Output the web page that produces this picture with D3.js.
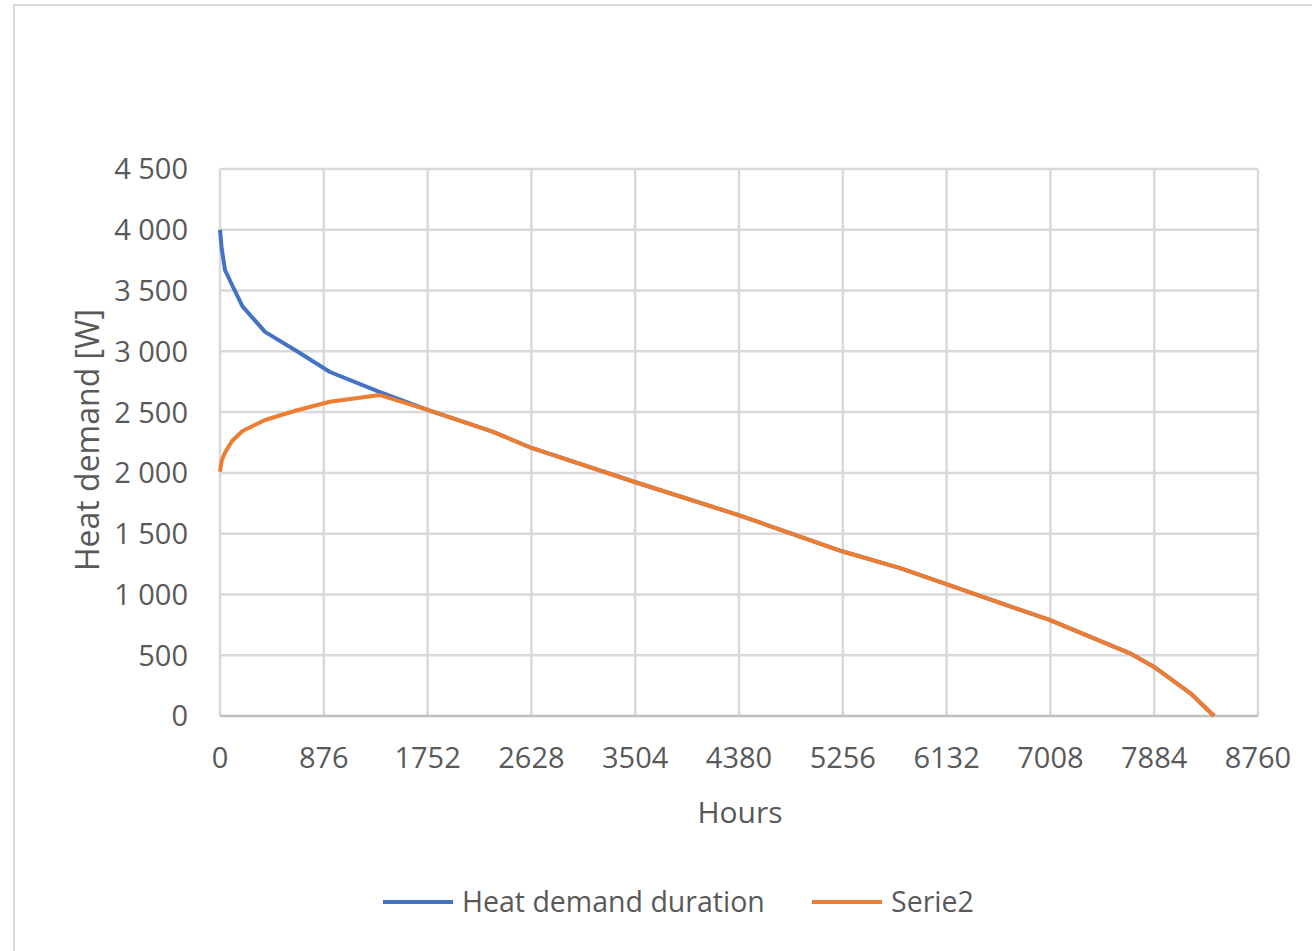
<!DOCTYPE html>
<html>
<head>
<meta charset="utf-8">
<script src="https://cdn.jsdelivr.net/npm/d3@7"></script>
<style>
  body { margin: 0; background: #fff; }
  text { font-family: "Open Sans", sans-serif; fill: #595959; }
</style>
</head>
<body>
<div class="chart"></div>
<script>
// values
const hours = [0, 14, 42, 100, 190, 380, 650, 928, 1350, 1758, 2300, 2630, 3500, 4370, 5250, 5740, 6130, 7000, 7680, 7880, 8190, 8390];
const heatDemand = [4000, 3850, 3670, 3550, 3370, 3160, 3000, 2830, 2665, 2517, 2340, 2205, 1925, 1655, 1355, 1217, 1085, 790, 516, 406, 187, 0];
const serie2 = [2010, 2100, 2165, 2260, 2345, 2435, 2515, 2585, 2640, 2517, 2340, 2205, 1925, 1655, 1355, 1217, 1085, 790, 516, 406, 187, 0];
const xTicks = [0, 876, 1752, 2628, 3504, 4380, 5256, 6132, 7008, 7884, 8760];
const yTicks = [0, 500, 1000, 1500, 2000, 2500, 3000, 3500, 4000, 4500];
const seriesNames = ["Heat demand duration", "Serie2"];
const colors = ["#4472C4", "#ED7D31"];

const W = 1312, H = 951;
const svg = d3.select(".chart").append("svg")
    .attr("width", W)
    .attr("height", H);

// chart frame
svg.append("rect")
    .attr("x", 14).attr("y", 5)
    .attr("width", W).attr("height", H)
    .attr("fill", "none")
    .attr("stroke", "#d9d9d9")
    .attr("stroke-width", 2);

const x = d3.scaleLinear().domain([0, 8760]).range([220, 1258]);
const y = d3.scaleLinear().domain([0, 4500]).range([716, 169]);

const fmt = d => d3.format(",")(d).replace(/,/g, " ");

// gridlines
svg.append("g")
    .selectAll("line")
    .data(yTicks.slice(1))
    .enter().append("line")
    .attr("x1", x(0)).attr("x2", x(8760))
    .attr("y1", d => y(d)).attr("y2", d => y(d))
    .attr("stroke", "#d9d9d9").attr("stroke-width", 2.5);

svg.append("g")
    .selectAll("line")
    .data(xTicks)
    .enter().append("line")
    .attr("x1", d => x(d)).attr("x2", d => x(d))
    .attr("y1", y(4500)).attr("y2", y(0))
    .attr("stroke", "#d9d9d9").attr("stroke-width", 2.5);

// x axis line
svg.append("line")
    .attr("x1", x(0)).attr("x2", x(8760))
    .attr("y1", y(0)).attr("y2", y(0))
    .attr("stroke", "#bfbfbf").attr("stroke-width", 2.5);

// tick labels
svg.append("g")
    .selectAll("text")
    .data(yTicks)
    .enter().append("text")
    .attr("x", 188)
    .attr("y", d => y(d))
    .attr("dy", "0.36em")
    .attr("text-anchor", "end")
    .attr("font-size", 29)
    .text(fmt);

svg.append("g")
    .selectAll("text")
    .data(xTicks)
    .enter().append("text")
    .attr("x", d => x(d))
    .attr("y", 758)
    .attr("dy", "0.36em")
    .attr("text-anchor", "middle")
    .attr("font-size", 29)
    .text(d => d);

// axis titles
svg.append("text")
    .attr("x", 740).attr("y", 812)
    .attr("dy", "0.36em")
    .attr("text-anchor", "middle")
    .attr("font-size", 30)
    .text("Hours");

svg.append("text")
    .attr("transform", "translate(87,440) rotate(-90)")
    .attr("dy", "0.36em")
    .attr("text-anchor", "middle")
    .attr("font-size", 32)
    .text("Heat demand [W]");

// lines
const line = d3.line()
    .x(d => x(d[0]))
    .y(d => y(d[1]));

[heatDemand, serie2].forEach((vals, i) => {
    svg.append("path")
        .datum(hours.map((h, j) => [h, vals[j]]))
        .attr("d", line)
        .attr("fill", "none")
        .attr("stroke", colors[i])
        .attr("stroke-width", 4)
        .attr("stroke-linejoin", "round");
});

// legend
const legendX = [383, 812];
seriesNames.forEach((name, i) => {
    svg.append("line")
        .attr("x1", legendX[i]).attr("x2", legendX[i] + 70)
        .attr("y1", 902).attr("y2", 902)
        .attr("stroke", colors[i])
        .attr("stroke-width", 4);
    svg.append("text")
        .attr("x", legendX[i] + 79)
        .attr("y", 902)
        .attr("dy", "0.36em")
        .attr("font-size", 28.5)
        .text(name);
});
</script>
</body>
</html>
